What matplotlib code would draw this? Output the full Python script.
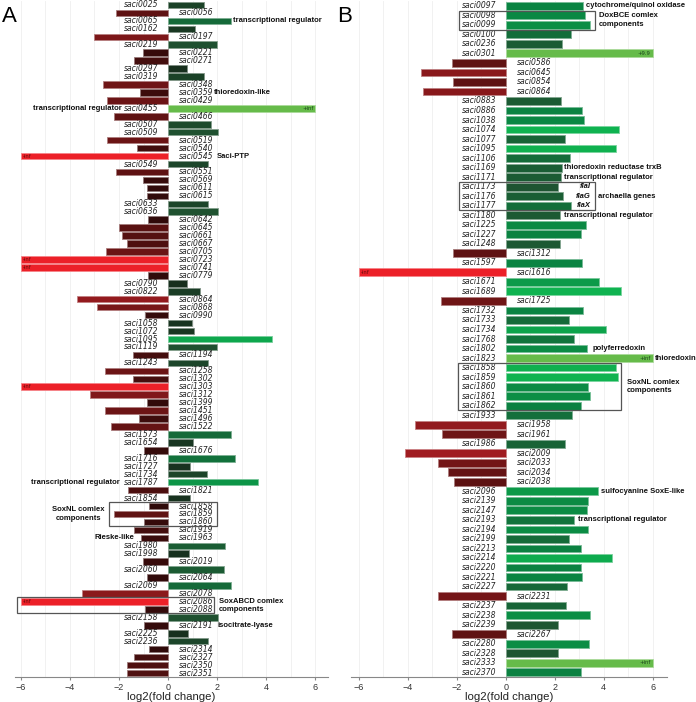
import numpy as np
import matplotlib
matplotlib.use('Agg')
import matplotlib.pyplot as plt
from matplotlib.colors import LinearSegmentedColormap
from matplotlib.patches import Rectangle

INF = np.inf

# panel A
genes_a = ['saci0025', 'saci0056', 'saci0065', 'saci0162', 'saci0197', 'saci0219', 'saci0221',
           'saci0271', 'saci0297', 'saci0319', 'saci0348', 'saci0359', 'saci0429', 'saci0455',
           'saci0466', 'saci0507', 'saci0509', 'saci0519', 'saci0540', 'saci0545', 'saci0549',
           'saci0551', 'saci0569', 'saci0611', 'saci0615', 'saci0633', 'saci0636', 'saci0642',
           'saci0645', 'saci0661', 'saci0667', 'saci0705', 'saci0723', 'saci0741', 'saci0779',
           'saci0790', 'saci0822', 'saci0864', 'saci0868', 'saci0990', 'saci1058', 'saci1072',
           'saci1095', 'saci1119', 'saci1194', 'saci1243', 'saci1258', 'saci1302', 'saci1303',
           'saci1312', 'saci1399', 'saci1451', 'saci1496', 'saci1522', 'saci1573', 'saci1654',
           'saci1676', 'saci1716', 'saci1727', 'saci1734', 'saci1787', 'saci1821', 'saci1854',
           'saci1858', 'saci1859', 'saci1860', 'saci1919', 'saci1963', 'saci1980', 'saci1998',
           'saci2019', 'saci2060', 'saci2064', 'saci2069', 'saci2078', 'saci2086', 'saci2088',
           'saci2158', 'saci2191', 'saci2225', 'saci2236', 'saci2314', 'saci2327', 'saci2350',
           'saci2351']
fc_a = [1.46, -2.14, 2.57, 1.10, -3.03, 1.99, -1.02,
        -1.37, 0.78, 1.47, -2.65, -1.16, -2.50, INF,
        -2.19, 1.77, 2.04, -2.50, -1.28, -INF, 1.62,
        -2.14, -1.01, -0.86, -0.84, 1.61, 2.05, -0.82,
        -1.99, -1.86, -1.67, -2.53, -INF, -INF, -0.80,
        0.78, 1.29, -3.71, -2.91, -0.95, 0.98, 1.07,
        4.24, 1.99, -1.41, 1.62, -2.56, -1.43, -INF,
        -3.18, -0.87, -2.56, -1.18, -2.33, 2.57, 1.03,
        -0.97, 2.73, 0.91, 1.58, 3.66, -1.62, 0.90,
        -0.79, -2.20, -0.97, -1.37, -1.09, 2.31, 0.87,
        -1.02, 2.26, -0.86, 2.57, -3.50, -INF, -0.93,
        2.04, -0.97, 0.83, 1.62, -0.78, -1.37, -1.66,
        -1.69]

# panel B
genes_b = ['saci0097', 'saci0098', 'saci0099', 'saci0100', 'saci0236', 'saci0301', 'saci0586',
           'saci0645', 'saci0854', 'saci0864', 'saci0883', 'saci0886', 'saci1038', 'saci1074',
           'saci1077', 'saci1095', 'saci1106', 'saci1169', 'saci1171', 'saci1173', 'saci1176',
           'saci1177', 'saci1180', 'saci1225', 'saci1227', 'saci1248', 'saci1312', 'saci1597',
           'saci1616', 'saci1671', 'saci1689', 'saci1725', 'saci1732', 'saci1733', 'saci1734',
           'saci1768', 'saci1802', 'saci1823', 'saci1858', 'saci1859', 'saci1860', 'saci1861',
           'saci1862', 'saci1933', 'saci1958', 'saci1961', 'saci1986', 'saci2009', 'saci2033',
           'saci2034', 'saci2038', 'saci2096', 'saci2139', 'saci2147', 'saci2193', 'saci2194',
           'saci2199', 'saci2213', 'saci2214', 'saci2220', 'saci2221', 'saci2227', 'saci2231',
           'saci2237', 'saci2238', 'saci2239', 'saci2267', 'saci2280', 'saci2328', 'saci2333',
           'saci2370']
fc_b = [3.14, 3.25, 3.43, 2.65, 2.29, 9.9, -2.20,
        -3.44, -2.16, -3.39, 2.26, 3.10, 3.21, 4.64,
        2.44, 4.52, 2.61, 2.30, 2.26, 2.12, 2.33,
        2.67, 2.23, 3.28, 3.09, 2.22, -2.15, 3.12,
        -INF, 3.81, 4.69, -2.65, 3.14, 2.60, 4.11,
        2.80, 3.33, INF, 4.50, 4.60, 3.35, 3.43,
        3.07, 2.69, -3.69, -2.61, 2.44, -4.12, -2.75,
        -2.35, -2.12, 3.78, 3.36, 3.33, 2.80, 3.37,
        2.59, 3.07, 4.34, 3.07, 3.12, 2.52, -2.78,
        2.45, 3.43, 2.15, -2.20, 3.40, 2.14, INF,
        3.06]

# annotations: gene, text, x, ha
notes_a = [('saci0065', 'transcriptional regulator', 2.64, 'left'),
           ('saci0359', 'thioredoxin-like', 1.88, 'left'),
           ('saci0455', 'transcriptional regulator', -1.9, 'right'),
           ('saci0545', 'Saci-PTP', 2.0, 'left'),
           ('saci1787', 'transcriptional regulator', -1.97, 'right'),
           ('saci1963', 'Rieske-like', -1.38, 'right'),
           ('saci2191', 'isocitrate-lyase', 2.0, 'left')]
# boxed groups: first gene, last gene, box x0, box x1, text, text x, ha
groups_a = [('saci1858', 'saci1860', -2.39, 2.01, 'SoxNL comlex\ncomponents', -3.66, 'center'),
            ('saci2086', 'saci2088', -6.14, 1.88, 'SoxABCD comlex\ncomponents', 2.07, 'left')]

notes_b = [('saci0097', 'cytochrome/quinol oxidase', 3.28, 'left'),
           ('saci1169', 'thioredoxin reductase trxB', 2.37, 'left'),
           ('saci1171', 'transcriptional regulator', 2.39, 'left'),
           ('saci1176', 'archaella genes', 3.77, 'left'),
           ('saci1180', 'transcriptional regulator', 2.37, 'left'),
           ('saci1802', 'polyferredoxin', 3.54, 'left'),
           ('saci1823', 'thioredoxin', 6.1, 'left'),
           ('saci2096', 'sulfocyanine SoxE-like', 3.89, 'left'),
           ('saci2193', 'transcriptional regulator', 2.94, 'left')]
fla_b = [('saci1173', 'flaI'), ('saci1176', 'flaG'), ('saci1177', 'flaX')]
groups_b = [('saci0098', 'saci0099', -1.92, 3.63, 'DoxBCE comlex\ncomponents', 3.82, 'left'),
            ('saci1173', 'saci1177', -1.92, 3.63, None, 0, 'left'),
            ('saci1858', 'saci1862', -1.96, 4.69, 'SoxNL comlex\ncomponents', 4.94, 'left')]

XMAX = 6
reds = LinearSegmentedColormap.from_list('r', [(0.0, '#140505'), (0.45, '#5c1212'), (1.0, '#b01e24')])
greens = LinearSegmentedColormap.from_list('g', [(0.0, '#121a12'), (0.45, '#1f5230'),
                                                (0.68, '#0a8442'), (1.0, '#0fb350')])


def bar_color(v):
    if np.isinf(v) or abs(v) > XMAX:
        return '#ec2028' if v < 0 else '#66bb4a'
    if v < 0:
        return reds(min(-v / 4.6, 1.0))
    return greens(min(v / 4.6, 1.0))


def lighten(c, f=0.45):
    c = np.array(matplotlib.colors.to_rgb(c))
    return tuple(c + (1 - c) * f)


def draw_panel(ax, genes, vals, notes, groups, xlim):
    n = len(genes)
    y = np.arange(n)
    shown = np.clip(np.array(vals, dtype=float), -XMAX, XMAX)
    cols = [bar_color(v) for v in vals]
    ax.barh(y, shown, height=0.82, color=cols, edgecolor=[lighten(c) for c in cols],
            linewidth=0.6, zorder=2)
    for i, (g, v) in enumerate(zip(genes, vals)):
        if v > 0:
            ax.text(-0.38, i, g, ha='right', va='center', fontsize=5.5, style='italic', color='#222222')
        else:
            ax.text(0.46, i, g, ha='left', va='center', fontsize=5.5, style='italic', color='#222222')
        if np.isinf(v) or abs(v) > XMAX:
            lab = ('+inf' if v > 0 else '-inf') if np.isinf(v) else '+%.1f' % v
            if v > 0:
                ax.text(XMAX - 0.08, i, lab, ha='right', va='center', fontsize=3.8, color='#1d4a1d')
            else:
                ax.text(-XMAX + 0.08, i, lab, ha='left', va='center', fontsize=3.8, color='#6a0c0c')
    for g, txt, x, ha in notes:
        ax.text(x, genes.index(g), txt, ha=ha, va='center', fontsize=5.5, fontweight='bold',
                family='Liberation Sans', color='#111111')
    for g0, g1, x0, x1, txt, tx, ha in groups:
        i0, i1 = genes.index(g0), genes.index(g1)
        ax.add_patch(Rectangle((x0, i0 - 0.5), x1 - x0, i1 - i0 + 1, fill=False,
                               edgecolor='#555555', linewidth=0.9, zorder=3))
        if txt:
            ax.text(tx, (i0 + i1) / 2, txt, ha=ha, va='center', fontsize=5.5, fontweight='bold',
                    family='Liberation Sans', color='#111111', linespacing=1.25, multialignment=ha)
    ax.set_ylim(n - 0.5, -0.5)
    ax.set_xlim(*xlim)
    ax.set_yticks([])
    ax.set_xticks(range(-6, 7, 2))
    ax.set_xticks(range(-6, 7), minor=True)
    ax.grid(True, axis='x', which='both', color='#efefef', linewidth=0.6, zorder=0)
    ax.set_axisbelow(True)
    for s in ['top', 'right', 'left']:
        ax.spines[s].set_visible(False)
    ax.spines['bottom'].set_color('#888888')
    ax.tick_params(axis='x', which='major', length=2.5, color='#888888', labelsize=6.5, pad=1.5,
                   labelcolor='#333333')
    ax.tick_params(axis='x', which='minor', length=0)
    for t in ax.get_xticklabels():
        t.set_family('Liberation Sans')
    ax.set_xlabel('log2(fold change)', fontsize=8.2, family='Liberation Sans', labelpad=0, color='#222222')


fig = plt.figure(figsize=(6.96, 7.02), dpi=100)
ax_a = fig.add_axes([15 / 696, 25 / 702, 313 / 696, 676 / 702])
ax_b = fig.add_axes([350.6 / 696, 25 / 702, 316.5 / 696, 676 / 702])

draw_panel(ax_a, genes_a, fc_a, notes_a, groups_a, (-6.24, 6.52))
draw_panel(ax_b, genes_b, fc_b, notes_b, groups_b, (-6.33, 6.59))
for g, txt in fla_b:
    ax_b.text(3.46, genes_b.index(g), txt, ha='right', va='center', fontsize=5.5, fontweight='bold',
              style='italic', family='Liberation Sans', color='#111111')

fig.text(9 / 696, 1 - 17 / 702, 'A', fontsize=16, ha='center', va='center', family='Liberation Sans')
fig.text(345 / 696, 1 - 17 / 702, 'B', fontsize=16, ha='center', va='center', family='Liberation Sans')

fig.savefig('out.png', dpi=100)
